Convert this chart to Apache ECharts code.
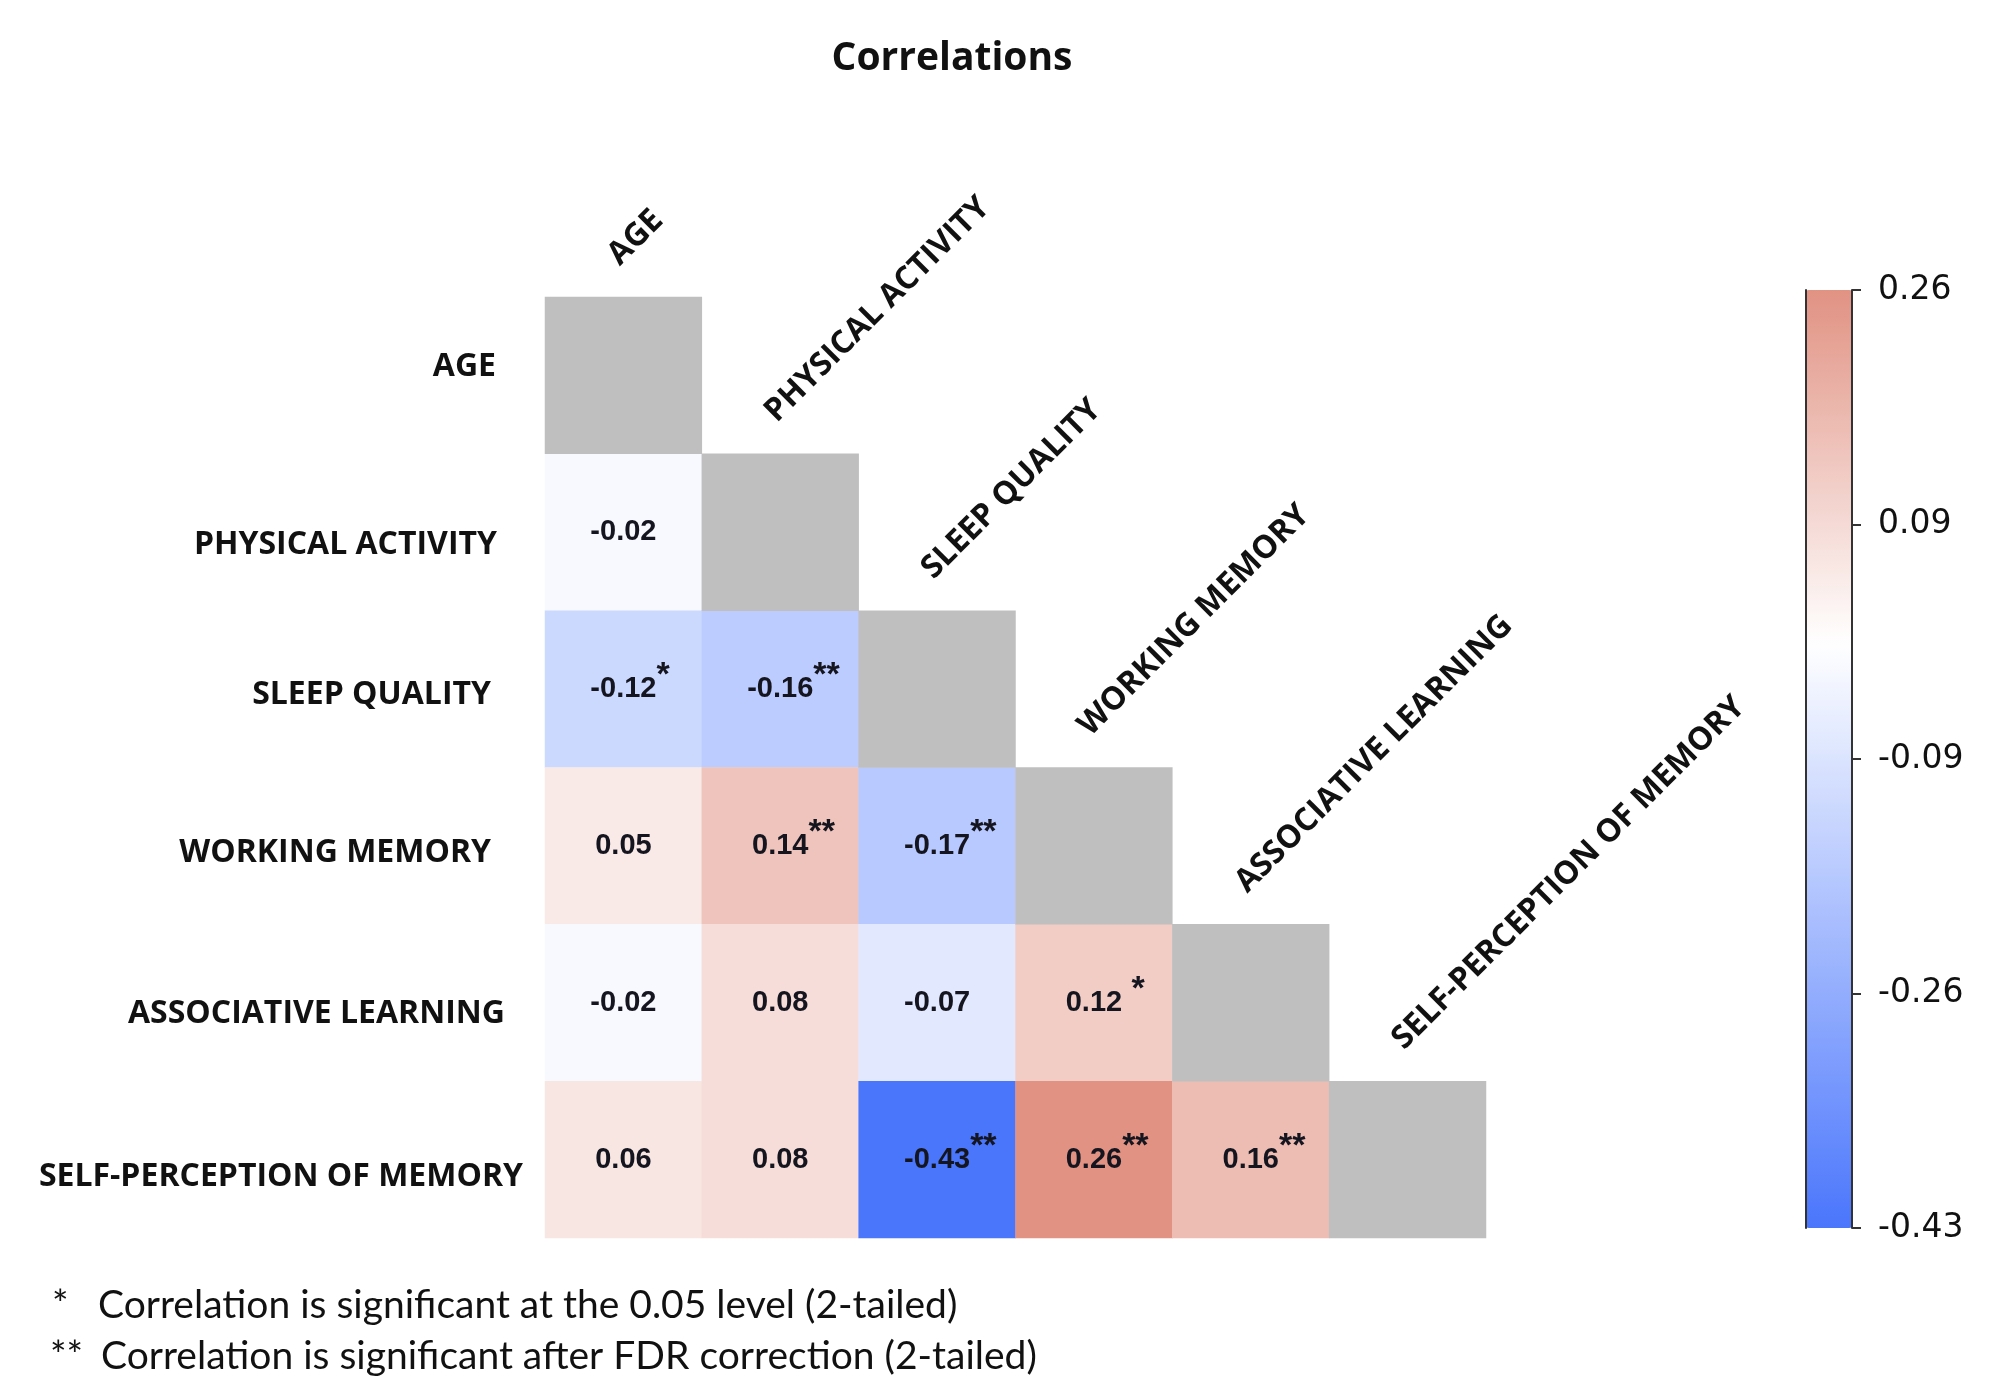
<!DOCTYPE html>
<html><head><meta charset="utf-8">
<script src="https://cdn.jsdelivr.net/npm/echarts@6/dist/echarts.min.js"></script>
<style>html,body{margin:0;padding:0;background:#fff}#c{width:2000px;height:1395px}</style>
</head><body><div id="c"></div>
<script>
// ---- data ----
const variables = ['AGE','PHYSICAL ACTIVITY','SLEEP QUALITY','WORKING MEMORY','ASSOCIATIVE LEARNING','SELF-PERCEPTION OF MEMORY'];
// lower-triangle correlations: row r holds columns 0..r-1
const rowAGE = [];
const rowPA  = [-0.02];
const rowSQ  = [-0.12, -0.16];
const rowWM  = [0.05, 0.14, -0.17];
const rowAL  = [-0.02, 0.08, -0.07, 0.12];
const rowSPM = [0.06, 0.08, -0.43, 0.26, 0.16];
// significance marks
const sigAGE = [];
const sigPA  = [''];
const sigSQ  = ['*', '**'];
const sigWM  = ['', '**', '**'];
const sigAL  = ['', '', '', ' *'];
const sigSPM = ['', '', '**', '**', '**'];
const colorbarTicks = ['-0.43', '-0.26', '-0.09', '0.09', '0.26'];
const colorMin = -0.43, colorMax = 0.26;
const titleText = 'Correlations';
const footMarks = ['*', '**'];
const footTexts = ['Correlation is significant at the 0.05 level (2-tailed)',
                   'Correlation is significant after FDR correction (2-tailed)'];

// ---- styling (label nudges, not data) ----
const rowLabelPadTop = [0, 44, 30, 32, 40, 52];
const rowLabelPadRight = [27, 26, 32, 32, 18, 0];

// ---- build ----
const rows = [rowAGE, rowPA, rowSQ, rowWM, rowAL, rowSPM];
const sigs = [sigAGE, sigPA, sigSQ, sigWM, sigAL, sigSPM];
const heatData = [];
rows.forEach((row, r) => row.forEach((v, c) => heatData.push([c, r, v])));
const diagData = variables.map((_, i) => [i, i, 0]);

const BLUE = [74, 118, 252], WHITE = [255, 255, 255], RED = [225, 146, 131];
function lerp(a, b, t) { return a.map((x, i) => Math.round(x + (b[i] - x) * t)); }
function colorFor(v) { return v < 0 ? lerp(WHITE, BLUE, v / colorMin) : lerp(WHITE, RED, v / colorMax); }
const colorStops = [];
for (let k = 0; k <= 69; k++) {
  const v = colorMin + (colorMax - colorMin) * k / 69;
  colorStops.push('rgb(' + colorFor(v).join(',') + ')');
}

const LABEL_FONT = '"Open Sans", "Noto Sans", sans-serif';
const NUM_FONT = '"Liberation Sans", Arial, sans-serif';
const FOOT_FONT = '39px Lato, sans-serif';

const rowRich = {};
variables.forEach((v, i) => {
  rowRich['r' + i] = {fontFamily: LABEL_FONT, fontWeight: 'bold', fontSize: 32, color: '#111',
                      lineHeight: 40, padding: [rowLabelPadTop[i], rowLabelPadRight[i], 18, 0]};
});

const chart = echarts.init(document.getElementById('c'), null, {renderer: 'canvas'});
chart.setOption({
  backgroundColor: '#fff',
  animation: false,
  title: {
    text: titleText, left: 947, top: 34, textAlign: 'center',
    textStyle: {fontFamily: LABEL_FONT, fontWeight: 'bold', fontSize: 39, color: '#111'}
  },
  grid: [
    {left: 545, top: 297, width: 941, height: 941},
    {left: 1806, top: 290, width: 46, height: 938, show: false}
  ],
  xAxis: [
    {type: 'category', gridIndex: 0, data: variables, position: 'top',
     axisLine: {show: false}, axisTick: {show: false}, axisLabel: {show: false}, splitLine: {show: false}},
    {type: 'category', gridIndex: 1, data: [''], show: false}
  ],
  yAxis: [
    {type: 'category', gridIndex: 0, inverse: true, data: variables,
     axisLine: {show: false}, axisTick: {show: false}, splitLine: {show: false},
     axisLabel: {formatter: (v, i) => '{r' + i + '|' + v + '}', rich: rowRich, margin: 22}},
    {type: 'value', gridIndex: 1, min: 0, max: 4, interval: 1, position: 'right', z: 10,
     axisLine: {show: true, lineStyle: {color: '#333', width: 2}},
     axisTick: {show: true, length: 9, lineStyle: {color: '#333', width: 2}},
     splitLine: {show: false},
     axisLabel: {formatter: (v) => colorbarTicks[v], fontFamily: '"DejaVu Sans", sans-serif', fontSize: 33, color: '#111', margin: 26}},
    {type: 'value', gridIndex: 1, min: 0, max: 4, interval: 1, position: 'left', z: 10,
     axisLine: {show: true, lineStyle: {color: '#333', width: 2}},
     axisTick: {show: false}, axisLabel: {show: false}, splitLine: {show: false}}
  ],
  visualMap: {
    type: 'continuous', min: colorMin, max: colorMax, seriesIndex: 0, dimension: 2,
    calculable: false, hoverLink: false, left: 1806, top: 290, itemWidth: 46, itemHeight: 938,
    padding: 0, orient: 'vertical', inRange: {color: colorStops}
  },
  series: [
    {
      type: 'heatmap', xAxisIndex: 0, yAxisIndex: 0, data: heatData,
      itemStyle: {borderWidth: 0},
      label: {
        show: true,
        formatter: (p) => {
          const s = sigs[p.value[1]][p.value[0]];
          const num = p.value[2].toFixed(2);
          return s ? '{p|' + s + '}{v|' + num + '}{s|' + s + '}' : '{v|' + num + '}';
        },
        rich: {
          v: {fontFamily: NUM_FONT, fontWeight: 'bold', fontSize: 29, color: '#15151f', lineHeight: 60},
          s: {fontFamily: NUM_FONT, fontWeight: 'bold', fontSize: 34, color: '#15151f', lineHeight: 18, verticalAlign: 'top'},
          p: {fontFamily: NUM_FONT, fontWeight: 'bold', fontSize: 34, color: 'rgba(0,0,0,0)', lineHeight: 18, verticalAlign: 'top'}
        }
      },
      emphasis: {disabled: true}
    },
    {
      type: 'heatmap', xAxisIndex: 0, yAxisIndex: 0, data: diagData,
      itemStyle: {color: '#bfbfbf', borderWidth: 0}, label: {show: false}, emphasis: {disabled: true}
    },
    {
      type: 'custom', coordinateSystem: 'cartesian2d', xAxisIndex: 0, yAxisIndex: 0,
      data: diagData, silent: true, z: 5,
      renderItem: (params, api) => {
        const c = api.coord([api.value(0), api.value(1)]);
        const sz = api.size([1, 1]);
        return {
          type: 'text', x: c[0] - 10, y: c[1] - sz[1] / 2 - 37, rotation: Math.PI / 4,
          style: {text: variables[params.dataIndex], fill: '#111',
                  font: 'bold 32px ' + LABEL_FONT,
                  align: 'left', verticalAlign: 'middle', textAlign: 'left', textVerticalAlign: 'middle'}
        };
      }
    }
  ],
  graphic: [
    {type: 'text', x: 52, y: 1305, style: {text: footMarks[0], font: FOOT_FONT, fill: '#111', verticalAlign: 'middle'}},
    {type: 'text', x: 98, y: 1305, style: {text: footTexts[0], font: FOOT_FONT, fill: '#111', verticalAlign: 'middle'}},
    {type: 'text', x: 50, y: 1356, style: {text: footMarks[1], font: FOOT_FONT, fill: '#111', verticalAlign: 'middle'}},
    {type: 'text', x: 101, y: 1356, style: {text: footTexts[1], font: FOOT_FONT, fill: '#111', verticalAlign: 'middle'}}
  ]
});
</script></body></html>
